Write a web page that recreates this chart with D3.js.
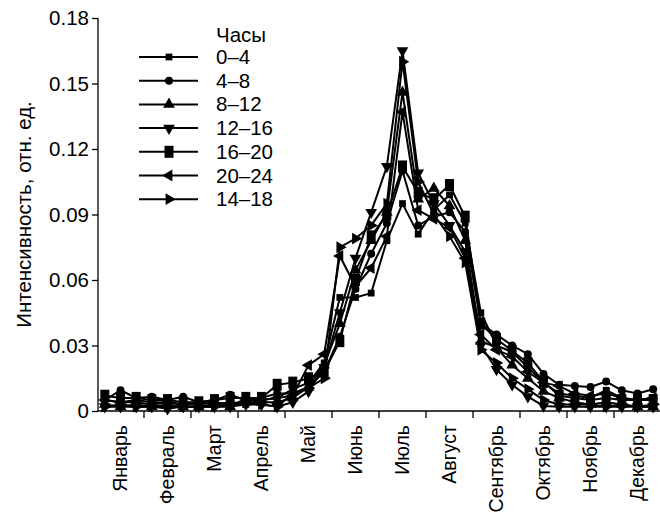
<!DOCTYPE html>
<html>
<head>
<meta charset="utf-8">
<script src="https://cdn.jsdelivr.net/npm/d3@7"></script>
<style>
  body { margin: 0; background: #fff; }
  svg { display: block; font-family: "Liberation Sans", Arial, sans-serif; }
</style>
</head>
<body>
<svg id="chart" width="660" height="518"></svg>
<script>
// months on the x axis, three ten-day points per month
const months = ['Январь', 'Февраль', 'Март', 'Апрель', 'Май', 'Июнь',
  'Июль', 'Август', 'Сентябрь', 'Октябрь', 'Ноябрь', 'Декабрь'];
const yTicks = [0, 0.03, 0.06, 0.09, 0.12, 0.15, 0.18];
const seriesNames = ['0–4', '4–8', '8–12', '12–16', '16–20', '20–24', '14–18'];

const h0_4 = [0.005, 0.004, 0.005, 0.004, 0.004, 0.003, 0.004, 0.003, 0.004, 0.003, 0.005, 0.006,
  0.010, 0.013, 0.022, 0.052, 0.052, 0.054, 0.078, 0.095, 0.081, 0.092, 0.099, 0.086,
  0.045, 0.030, 0.027, 0.020, 0.013, 0.008, 0.007, 0.006, 0.0095, 0.006, 0.005, 0.006];
const h4_8 = [0.005, 0.0095, 0.006, 0.0065, 0.005, 0.0065, 0.004, 0.005, 0.0075, 0.005, 0.006, 0.008,
  0.008, 0.011, 0.018, 0.034, 0.056, 0.072, 0.086, 0.110, 0.085, 0.089, 0.091, 0.082,
  0.040, 0.035, 0.030, 0.026, 0.017, 0.012, 0.0115, 0.011, 0.0135, 0.0095, 0.008, 0.010];
const h8_12 = [0.003, 0.002, 0.003, 0.002, 0.003, 0.002, 0.002, 0.003, 0.002, 0.004, 0.004, 0.004,
  0.006, 0.011, 0.021, 0.040, 0.0645, 0.078, 0.091, 0.146, 0.097, 0.102, 0.094, 0.078,
  0.032, 0.029, 0.021, 0.015, 0.009, 0.006, 0.004, 0.003, 0.004, 0.003, 0.002, 0.002];
const h12_16 = [0.002, 0.002, 0.002, 0.002, 0.001, 0.002, 0.002, 0.002, 0.002, 0.003, 0.003, 0.002,
  0.004, 0.009, 0.020, 0.045, 0.070, 0.091, 0.112, 0.165, 0.109, 0.095, 0.085, 0.073,
  0.030, 0.019, 0.012, 0.0066, 0.0023, 0.002, 0.002, 0.002, 0.002, 0.002, 0.002, 0.002];
const h16_20 = [0.007, 0.006, 0.006, 0.005, 0.005, 0.004, 0.004, 0.005, 0.006, 0.006, 0.006, 0.012,
  0.013, 0.015, 0.018, 0.032, 0.060, 0.080, 0.090, 0.112, 0.100, 0.097, 0.1035, 0.089,
  0.040, 0.033, 0.0275, 0.022, 0.0134, 0.007, 0.006, 0.005, 0.006, 0.005, 0.005, 0.005];
const h20_24 = [0.005, 0.004, 0.004, 0.003, 0.004, 0.003, 0.003, 0.004, 0.003, 0.005, 0.005, 0.006,
  0.007, 0.021, 0.026, 0.071, 0.057, 0.0655, 0.080, 0.137, 0.092, 0.088, 0.084, 0.070,
  0.035, 0.028, 0.025, 0.018, 0.013, 0.0114, 0.008, 0.007, 0.008, 0.006, 0.005, 0.006];
const h14_18 = [0.002, 0.003, 0.002, 0.002, 0.002, 0.002, 0.002, 0.002, 0.003, 0.004, 0.003, 0.002,
  0.008, 0.0105, 0.015, 0.075, 0.079, 0.085, 0.095, 0.160, 0.105, 0.090, 0.080, 0.068,
  0.028, 0.022, 0.015, 0.010, 0.005, 0.003, 0.003, 0.003, 0.002, 0.003, 0.002, 0.003];

const allSeries = [h0_4, h4_8, h8_12, h12_16, h16_20, h20_24, h14_18];

const svg = d3.select('#chart');
const plotLeft = 98, plotRight = 661, plotTop = 18, plotBottom = 411;

const xMonth = d3.scaleBand().domain(months).range([plotLeft - 1, plotRight]);
const x = d3.scaleLinear().domain([-0.5, 35.5]).range([plotLeft - 1, plotRight]);
const y = d3.scaleLinear().domain([0, 0.18]).range([plotBottom, plotTop]);

// marker shapes per series
const markers = [
  { type: d3.symbolSquare, size: 46, rot: 0 },
  { type: d3.symbolCircle, size: 50, rot: 0 },
  { type: d3.symbolTriangle, size: 60, rot: 0 },
  { type: d3.symbolTriangle, size: 60, rot: 180 },
  { type: 'rect', w: 9, h: 12 },
  { type: d3.symbolTriangle, size: 60, rot: -90 },
  { type: d3.symbolTriangle, size: 60, rot: 90 }
];

function drawMarker(g, m, cx, cy) {
  if (m.type === 'rect') {
    g.append('rect')
      .attr('x', cx - m.w / 2).attr('y', cy - m.h / 2)
      .attr('width', m.w).attr('height', m.h)
      .attr('fill', '#000');
  } else {
    g.append('path')
      .attr('d', d3.symbol().type(m.type).size(m.size)())
      .attr('transform', `translate(${cx},${cy}) rotate(${m.rot})`)
      .attr('fill', '#000');
  }
}

// y axis
const yAxis = svg.append('g')
  .attr('transform', `translate(${plotLeft},0)`)
  .call(d3.axisLeft(y).tickValues(yTicks).tickSize(6).tickPadding(3)
    .tickFormat(d => d === 0 ? '0' : d3.format('.2f')(d)));
yAxis.select('.domain').attr('d', `M0,${plotTop}V${plotBottom}`).attr('stroke-width', 1.3);
yAxis.selectAll('.tick line').attr('stroke-width', 1.3);
yAxis.selectAll('text').attr('font-size', 20.5).attr('fill', '#000')
  .attr('font-family', '"Liberation Sans", Arial, sans-serif');

// x axis with month bands, ticks at boundaries
const xAxis = svg.append('g').attr('transform', `translate(0,${plotBottom})`);
xAxis.append('line')
  .attr('x1', plotLeft).attr('x2', plotRight).attr('stroke', '#000').attr('stroke-width', 1.3);
xAxis.selectAll('.mtick')
  .data(months.slice(1))
  .enter().append('line')
  .attr('x1', d => xMonth(d)).attr('x2', d => xMonth(d))
  .attr('y1', 0).attr('y2', 7)
  .attr('stroke', '#000').attr('stroke-width', 1.3);
xAxis.selectAll('.mlabel')
  .data(months)
  .enter().append('text')
  .attr('transform', d => `translate(${xMonth(d) + xMonth.bandwidth() / 2 + 6},14) rotate(-90)`)
  .attr('text-anchor', 'end')
  .attr('font-size', 19.5)
  .text(d => d);

// y label
svg.append('text')
  .attr('transform', `translate(31,${(plotTop + plotBottom) / 2}) rotate(-90)`)
  .attr('text-anchor', 'middle')
  .attr('font-size', 20.5)
  .text('Интенсивность, отн. ед.');

// lines and markers
const line = d3.line().x((d, i) => x(i)).y(d => y(d));
allSeries.forEach((s, k) => {
  const g = svg.append('g');
  g.append('path')
    .attr('d', line(s))
    .attr('fill', 'none')
    .attr('stroke', '#000')
    .attr('stroke-width', 2)
    .attr('stroke-linejoin', 'round');
  s.forEach((v, i) => drawMarker(g, markers[k], x(i), y(v)));
});

// legend
const legend = svg.append('g');
legend.append('text')
  .attr('x', 216).attr('y', 42)
  .attr('font-size', 20.5)
  .text('Часы');
seriesNames.forEach((name, k) => {
  const ly = 57 + k * 23.7;
  const g = legend.append('g');
  g.append('line')
    .attr('x1', 139).attr('x2', 198).attr('y1', ly).attr('y2', ly)
    .attr('stroke', '#000').attr('stroke-width', 2);
  drawMarker(g, markers[k], 169, ly);
  g.append('text')
    .attr('x', 216).attr('y', ly + 7)
    .attr('font-size', 20.5)
    .text(name);
});
</script>
</body>
</html>
